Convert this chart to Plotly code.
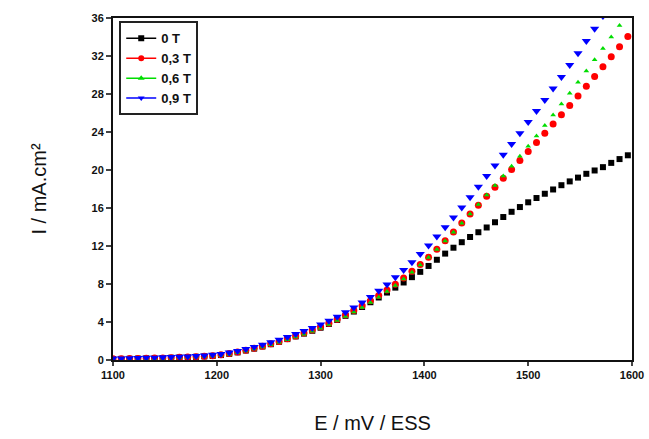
import plotly.graph_objects as go

E = [1100,1108,1116,1124,1132,1140,1148,1156,1164,1172,1180,1188,1196,1204,1212,1220,1228,1236,1244,1252,
     1260,1268,1276,1284,1292,1300,1308,1316,1324,1332,1340,1348,1356,1364,1372,1380,1388,1396,1404,1412,
     1420,1428,1436,1444,1452,1460,1468,1476,1484,1492,1500,1508,1516,1524,1532,1540,1548,1556,1564,1572,
     1580,1588,1596]

I_0T = [0.10,0.12,0.13,0.15,0.17,0.19,0.21,0.24,0.27,0.30,0.34,0.38,0.43,0.52,0.65,0.80,1.00,1.20,1.42,1.66,
        1.92,2.20,2.48,2.78,3.08,3.40,3.80,4.22,4.65,5.10,5.58,6.08,6.58,7.10,7.62,8.16,8.72,9.28,9.90,10.55,
        11.20,11.82,12.40,12.95,13.45,13.95,14.50,15.05,15.60,16.10,16.60,17.05,17.50,17.95,18.40,18.80,19.20,19.60,19.95,20.30,
        20.75,21.15,21.55]

I_03T = [0.12,0.13,0.15,0.16,0.18,0.20,0.22,0.25,0.28,0.31,0.35,0.40,0.46,0.55,0.68,0.84,1.03,1.24,1.46,1.70,
         1.96,2.24,2.53,2.84,3.15,3.48,3.88,4.30,4.75,5.22,5.72,6.24,6.78,7.36,7.98,8.64,9.34,10.06,10.82,11.66,
         12.55,13.48,14.42,15.36,16.30,17.24,18.18,19.12,20.06,21.00,21.95,22.90,23.86,24.84,25.82,26.80,27.80,28.82,29.84,30.88,
         31.92,32.98,34.05]

I_06T = [0.09,0.10,0.11,0.13,0.15,0.17,0.19,0.22,0.25,0.28,0.32,0.36,0.41,0.49,0.61,0.76,0.95,1.15,1.37,1.60,
         1.86,2.13,2.42,2.72,3.03,3.35,3.74,4.15,4.58,5.04,5.52,6.04,6.60,7.20,7.84,8.52,9.24,10.00,10.80,11.64,
         12.52,13.44,14.40,15.38,16.36,17.36,18.36,19.38,20.40,21.44,22.50,23.58,24.68,25.80,26.94,28.08,29.24,30.42,31.60,32.80,
         34.00,35.22,36.44]

I_09T = [0.15,0.17,0.19,0.21,0.23,0.25,0.28,0.31,0.34,0.38,0.42,0.47,0.54,0.64,0.78,0.95,1.15,1.37,1.60,1.86,
         2.13,2.42,2.73,3.05,3.38,3.73,4.12,4.55,5.02,5.52,6.06,6.64,7.28,7.96,8.70,9.48,10.30,11.16,12.06,13.00,
         13.98,15.00,16.06,17.14,18.24,19.36,20.48,21.60,22.74,23.88,25.04,26.20,27.38,28.58,29.80,31.04,32.30,33.58,34.88,36.20]

series_names = ["0 T", "0,3 T", "0,6 T", "0,9 T"]
series_vals = [I_0T, I_03T, I_06T, I_09T]
colors = ["#000000", "#ff0000", "#00dd00", "#0000ff"]
symbols = ["square", "circle", "triangle-up", "triangle-down"]
sizes = [6, 7, 5, 8]

x_ticks = [1100, 1200, 1300, 1400, 1500, 1600]
y_ticks = [0, 4, 8, 12, 16, 20, 24, 28, 32, 36]

fig = go.Figure()
for name, vals, c, s, sz in zip(series_names, series_vals, colors, symbols, sizes):
    fig.add_trace(go.Scatter(x=E[:len(vals)], y=vals, mode="markers", showlegend=False,
                             marker=dict(color=c, symbol=s, size=sz, line=dict(width=0))))
for name, c, s in zip(series_names, colors, symbols):
    fig.add_trace(go.Scatter(x=[None], y=[None], mode="lines+markers", name=name,
                             line=dict(color=c, width=1.5),
                             marker=dict(color=c, symbol=s, size=6)))

fig.update_layout(
    width=649, height=439,
    margin=dict(l=113, r=17, t=18, b=79),
    paper_bgcolor="white", plot_bgcolor="white",
    font=dict(family="Liberation Sans, Arial, sans-serif", color="#111"),
    legend=dict(x=0.012, y=0.99, xanchor="left", yanchor="top",
                bgcolor="white", bordercolor="#222", borderwidth=2,
                font=dict(size=13, family="Liberation Sans, Arial, sans-serif", weight="bold"),
                tracegroupgap=0),
)
fig.update_xaxes(range=[1100, 1600], tickvals=x_ticks, ticks="outside", ticklen=4, tickwidth=2,
                 showline=True, linecolor="#111", linewidth=2, mirror=True, showgrid=False, zeroline=False,
                 tickfont=dict(size=11, weight="bold"), automargin=False,
                 title=dict(text="E / mV / ESS", font=dict(size=20), standoff=36))
fig.update_yaxes(range=[0, 36], tickvals=y_ticks, ticks="outside", ticklen=5, tickwidth=2,
                 showline=True, linecolor="#111", linewidth=2, mirror=True, showgrid=False, zeroline=False,
                 tickfont=dict(size=11, weight="bold"), automargin=False,
                 title=dict(text="I / mA.cm²", font=dict(size=20), standoff=40))

fig.write_html("out.html", config={"displayModeBar": False},
               post_script="document.body.style.margin='0';document.documentElement.style.overflow='hidden';document.body.style.overflow='hidden';")
